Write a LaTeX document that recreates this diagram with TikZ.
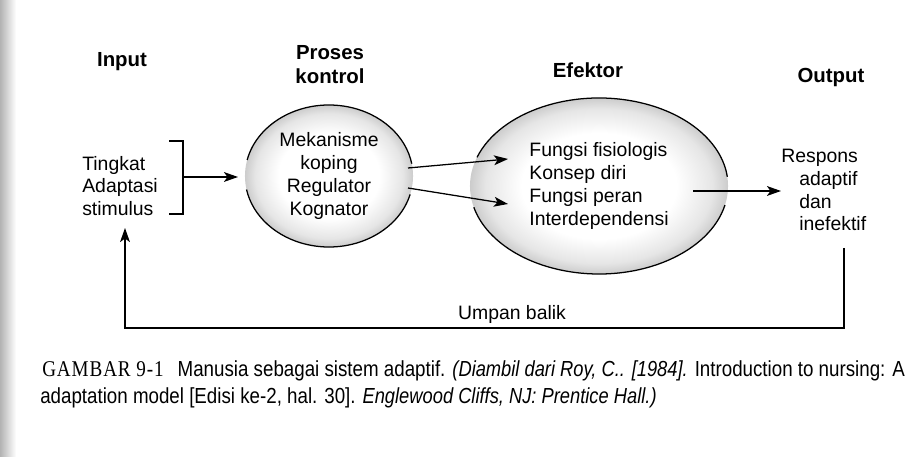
\documentclass[tikz,border=0pt]{standalone}
\usepackage{fontspec}
\setmainfont{Liberation Sans}
\newfontfamily\capsans[FakeStretch=0.86, ItalicFeatures={FakeStretch=0.84}]{Liberation Sans}
\newfontfamily\capserif[FakeStretch=0.85, LetterSpace=4]{Liberation Serif}
\usetikzlibrary{shapes.geometric, arrows.meta, calc}
\pgfdeclareradialshading{rim}{\pgfpoint{0bp}{0bp}}{color(0bp)=(white); color(15bp)=(white); color(22bp)=(black!10); color(25bp)=(black!20); color(50bp)=(black!20)}

\begin{document}
\begin{tikzpicture}[
    x=0.025cm,
    y=-0.025cm,
    heading/.style={
        font=\fontsize{14.5}{17}\selectfont\bfseries,
        align=center,
        inner sep=0pt
    },
    body/.style={
        font=\fontsize{13.8}{16.3}\selectfont,
        inner sep=0pt
    },
    blob/.style={
        ellipse,
        inner sep=0pt,
        shading=rim
    },
    outline/.style={
        line width=0.9pt
    },
    arr/.style={
        -{Stealth[length=10pt, width=7pt, inset=2.5pt]},
        line width=0.9pt
    },
    caption/.style={
        anchor=base west,
        inner sep=0pt,
        font=\fontsize{15.5}{18}\selectfont\capsans
    }
    ]
    \useasboundingbox (0,0) rectangle (912,457);
    % page edge
    \shade[left color=black!30, right color=white] (0,0) rectangle (16,457);

    % Headings
    \node[heading] (hin) at (122,62) {Input};
    \node[heading] (hpk) at (330,65) {Proses\\kontrol};
    \node[heading] (hef) at (588,70) {Efektor};
    \node[heading] (hout) at (831,78) {Output};

    % Blobs
    \node[blob, body, align=center, minimum width=4.2cm, minimum height=3.55cm] (kontrol) at (329,176)
        {Mekanisme\\koping\\Regulator\\Kognator};
    \node[blob, body, align=left, minimum width=6.45cm, minimum height=4.4cm] (efektor) at (599,186)
        {Fungsi fisiologis\\Konsep diri\\Fungsi peran\\Interdependensi};
    \draw[outline] ($(kontrol.center)+(15:84 and 71)$) arc[start angle=15, end angle=169, x radius=84, y radius=71];
    \draw[outline] ($(kontrol.center)+(193:84 and 71)$) arc[start angle=193, end angle=350, x radius=84, y radius=71];
    \draw[outline] ($(efektor.center)+(12.5:129 and 88)$) arc[start angle=12.5, end angle=166, x radius=129, y radius=88];
    \draw[outline] ($(efektor.center)+(199:129 and 88)$) arc[start angle=199, end angle=354, x radius=129, y radius=88];

    % Input and output
    \node[body, align=left, anchor=west] (stim) at (82,186) {Tingkat\\Adaptasi\\stimulus};
    \node[body, align=left, anchor=west] (resp) at (781,190)
        {Respons\\\hspace*{0.45cm}adaptif\\\hspace*{0.45cm}dan\\\hspace*{0.45cm}inefektif};
    \node[body, anchor=base] (umpan) at (512,320) {Umpan balik};

    \coordinate (brtop) at (169,141);
    \coordinate (brbot) at (169,214);
    \coordinate (brmid) at (183,177);
    \coordinate (kin) at (238,177);
    \coordinate (k1) at (408,168);
    \coordinate (k2) at (408,188);
    \coordinate (e1) at (508,159);
    \coordinate (e2) at (508,204);
    \coordinate (eout) at (693,191);
    \coordinate (fb) at (844,248);
    \coordinate (fbin) at (125,228);

    % Connectors
    \draw[outline] (brtop) -| (brmid) |- (brbot);
    \draw[arr] (brmid) -- (kin);
    \draw[arr] (k1) -- (e1);
    \draw[arr] (k2) -- (e2);
    \draw[arr] (eout) -- (eout -| resp.west);
    \draw[arr] (fb) |- ($(fbin)+(0,100)$) -- (fbin);

    % Caption
    \node[caption] (cap1) at (42,377)
        {{\capserif\fontsize{16}{18}\selectfont GAMBAR 9-1}\hspace{0.35cm}Manusia sebagai sistem adaptif. \textit{(Diambil dari Roy, C.. [1984].} Introduction to nursing: A};
    \node[caption] (cap2) at (40,404)
        {adaptation model [Edisi ke-2, hal. 30]. \textit{Englewood Cliffs, NJ: Prentice Hall.)}};
\end{tikzpicture}
\end{document}
